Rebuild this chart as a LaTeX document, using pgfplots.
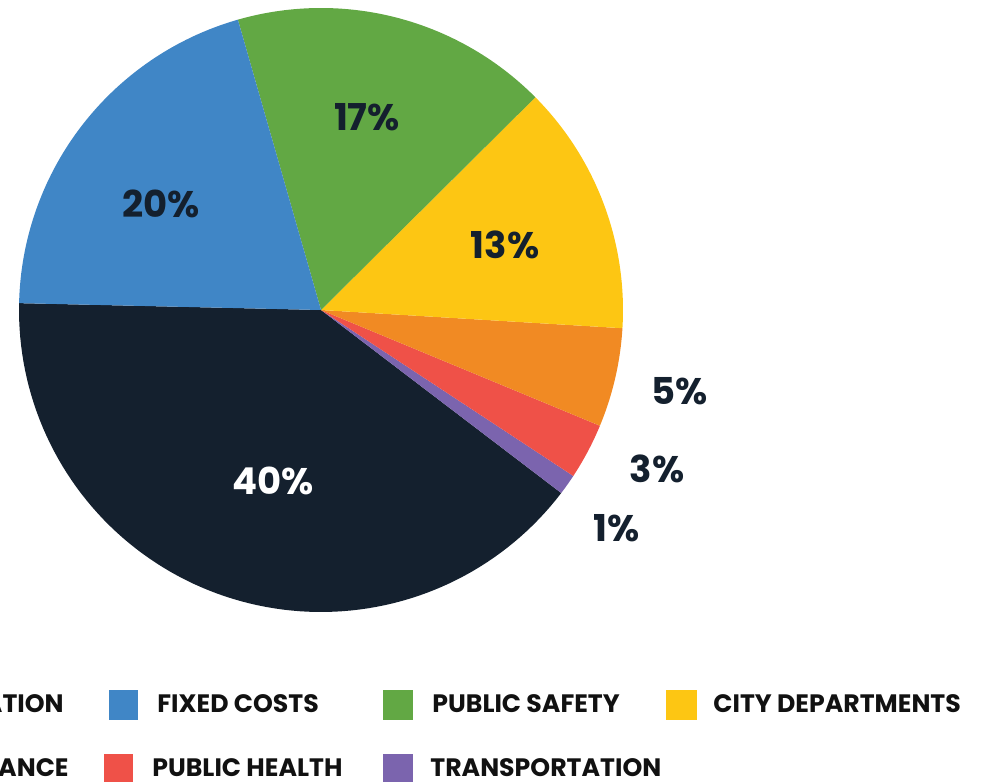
\documentclass[border=0pt]{standalone}
\usepackage{pgfplots}
\pgfplotsset{compat=1.18}
\usepackage{fontspec}
\setmainfont{Poppins}
\definecolor{cnavy}{HTML}{14202E}
\definecolor{cblue}{HTML}{4086C6}
\definecolor{cgreen}{HTML}{62A844}
\definecolor{cyellow}{HTML}{FDC613}
\definecolor{corange}{HTML}{F18A23}
\definecolor{cred}{HTML}{EF5148}
\definecolor{cpurple}{HTML}{7B64AE}
\definecolor{ctext}{HTML}{111111}
\begin{document}
\begin{tikzpicture}
\begin{axis}[
  x=0.5pt, y=0.5pt,
  xmin=0, xmax=981, ymin=0, ymax=782,
  hide axis, clip=false, scale only axis,
]
\coordinate (BL) at (axis cs:0,0);
\coordinate (TR) at (axis cs:981,782);
% slices: percentage / colour, drawn counter-clockwise from 178.7 degrees
\xdef\cum{178.7}
\foreach \v/\c in {40.0/cnavy, 1.1/cpurple, 3.0/cred, 5.3/corange, 13.4/cyellow, 17.0/cgreen, 20.2/cblue}{
  \pgfmathsetmacro\a{\cum}
  \pgfmathsetmacro\b{\cum+3.6*\v}
  \edef\temp{\noexpand\addplot[fill=\c, draw=none, domain=\a:\b, samples=90, variable=\noexpand\t]
     ({321+302*cos(\noexpand\t)},{472+302*sin(\noexpand\t)}) -- (axis cs:321,472) -- cycle;}
  \temp
  \xdef\cum{\b}
}
% percentage labels
\begin{scope}[every node/.style={font=\bfseries\fontsize{18.5}{20}\selectfont, text=cnavy, inner sep=0pt}]
\node at (axis cs:161,578) {20\%};
\node at (axis cs:367,665) {17\%};
\node at (axis cs:505,537) {13\%};
\node[text=white] at (axis cs:273,301) {40\%};
\node at (axis cs:680,391) {5\%};
\node at (axis cs:657,313) {3\%};
\node at (axis cs:617,254) {1\%};
\end{scope}
% legend
\begin{scope}[every node/.style={font=\bfseries\fontsize{12.6}{14}\selectfont, text=ctext, inner sep=0pt}]
\node[anchor=east] at (axis cs:64,78) {EDUCATION};
\fill[cblue] (axis cs:109,62) rectangle (axis cs:138,92);
\node[anchor=west] at (axis cs:157,78) {FIXED COSTS};
\fill[cgreen] (axis cs:383,62) rectangle (axis cs:413,92);
\node[anchor=west] at (axis cs:432,78) {PUBLIC SAFETY};
\fill[cyellow] (axis cs:666,62) rectangle (axis cs:697,92);
\node[anchor=west] at (axis cs:713,78) {CITY DEPARTMENTS};
\node[anchor=east] at (axis cs:69,14) {MAINTENANCE};
\fill[cred] (axis cs:104,-2) rectangle (axis cs:133,28);
\node[anchor=west] at (axis cs:152,14) {PUBLIC HEALTH};
\fill[cpurple] (axis cs:383,-2) rectangle (axis cs:413,28);
\node[anchor=west] at (axis cs:430,14) {TRANSPORTATION};
\end{scope}
\end{axis}
\pgfresetboundingbox
\useasboundingbox (BL) rectangle (TR);
\end{tikzpicture}
\end{document}
